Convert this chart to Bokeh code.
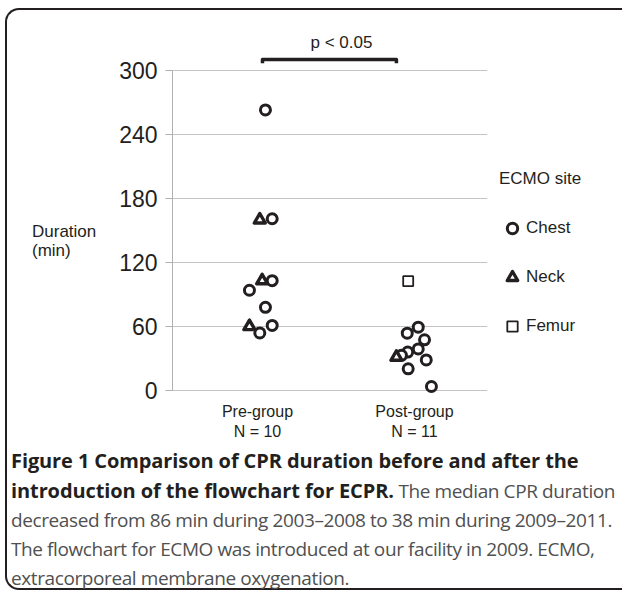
from bokeh.plotting import figure
from bokeh.models import ColumnDataSource, FixedTicker, Legend, LegendItem, Div
from bokeh.layouts import column, row
from bokeh.embed import file_html
from bokeh.resources import INLINE
from bokeh.core.properties import value

# ---------------- data ----------------
groups = ["Pre-group", "Post-group"]
group_labels = ["Pre-group\nN = 10", "Post-group\nN = 11"]
sites = ["Chest", "Neck", "Femur"]
y_ticks = [0, 60, 120, 180, 240, 300]

pre_site = ["Chest", "Neck", "Chest", "Chest", "Neck", "Chest", "Chest", "Neck", "Chest", "Chest"]
pre_duration = [263, 160, 161, 94, 103, 103, 78, 60, 54, 61]
pre_jitter = [0.051, 0.015, 0.094, -0.051, 0.030, 0.094, 0.051, -0.051, 0.015, 0.094]

post_site = ["Femur", "Chest", "Chest", "Chest", "Chest", "Chest", "Chest", "Chest", "Chest", "Chest", "Neck"]
post_duration = [102.5, 53.7, 59.4, 47.5, 36, 39, 28.7, 20.3, 3.75, 33, 31.3]
post_jitter = [-0.040, -0.046, 0.024, 0.064, -0.043, 0.024, 0.075, -0.040, 0.108, -0.083, -0.115]

p_value_text = "p < 0.05"
bracket_ends = [1.032, 1.885]   # group positions joined by the bracket
bracket_level = 310.3
bracket_drop = 3.5
p_text_x = 1.535
p_text_y = 326.2

ink = "#231f20"
FONT = "Liberation Sans"

# ---------------- figure ----------------
p = figure(frame_width=315, frame_height=365,
           x_range=(0.459, 2.465), y_range=(-4.69, 337.5),
           min_border_left=65, min_border_right=120,
           min_border_top=20, min_border_bottom=46,
           output_backend="svg", toolbar_location=None)
p.outline_line_color = None
p.background_fill_color = "white"

def points(site):
    xs, ys = [], []
    for g, (s_list, d_list, j_list) in enumerate([(pre_site, pre_duration, pre_jitter),
                                                   (post_site, post_duration, post_jitter)]):
        for s, d, j in zip(s_list, d_list, j_list):
            if s == site:
                xs.append(g + 1 + j)
                ys.append(d)
    return ColumnDataSource(dict(x=xs, y=ys))

r_chest = p.scatter("x", "y", source=points("Chest"), marker="circle", size=10,
                    line_width=3, line_color=ink, fill_color="white")
r_neck = p.scatter("x", "y", source=points("Neck"), marker="triangle", size=11,
                   line_width=3.4, line_color=ink, fill_color="white", line_join="round")
r_femur = p.scatter("x", "y", source=points("Femur"), marker="square", size=10,
                    line_width=1.8, line_color=ink, fill_color="white")

# significance bracket
p.line(x=[bracket_ends[0], bracket_ends[0], bracket_ends[1], bracket_ends[1]],
       y=[bracket_level - bracket_drop, bracket_level, bracket_level, bracket_level - bracket_drop],
       line_width=3.5, line_color=ink, line_join="round")
p.text(x=[p_text_x], y=[p_text_y], text=[p_value_text], text_align="center",
       text_baseline="middle", text_font=value(FONT), text_font_size="17px", text_color=ink)

# axes
p.yaxis.ticker = FixedTicker(ticks=y_ticks)
p.yaxis.bounds = (0, 300)
p.yaxis.axis_line_color = "#b0b0b0"
p.yaxis.major_tick_line_color = "#b0b0b0"
p.yaxis.major_tick_out = 7
p.yaxis.major_tick_in = 0
p.yaxis.minor_tick_line_color = None
p.yaxis.major_label_text_font = FONT
p.yaxis.major_label_text_font_size = "23px"
p.yaxis.major_label_text_color = ink
p.yaxis.major_label_standoff = 8

p.xaxis.ticker = FixedTicker(ticks=[1, 2])
p.xaxis.major_label_overrides = {i + 1: lab for i, lab in enumerate(group_labels)}
p.xaxis.axis_line_color = None
p.xaxis.major_tick_line_color = None
p.xaxis.minor_tick_line_color = None
p.xaxis.major_label_text_font = FONT
p.xaxis.major_label_text_font_size = "16px"
p.xaxis.major_label_text_color = ink
p.xaxis.major_label_standoff = 1

p.xgrid.grid_line_color = None
p.ygrid.grid_line_color = "#c4c4c4"
p.ygrid.grid_line_width = 1.2

# legend (right side panel)
legend = Legend(items=[LegendItem(label=sites[0], renderers=[r_chest]),
                       LegendItem(label=sites[1], renderers=[r_neck]),
                       LegendItem(label=sites[2], renderers=[r_femur])],
                title="ECMO site", title_text_font=FONT, title_text_font_size="17px",
                title_text_font_style="normal", title_text_color=ink, title_standoff=26,
                location=(12, 56), glyph_width=26, glyph_height=26, spacing=23,
                padding=0, margin=0, label_standoff=1,
                label_text_font=FONT, label_text_font_size="17px", label_text_color=ink,
                border_line_color=None, background_fill_alpha=0)
p.add_layout(legend, "right")

# y-axis title, written horizontally to the left of the axis
ylabel = Div(text='<div style="padding:212px 0 0 25px; line-height:19px;">Duration<br>(min)</div>',
             width=100, height=431, margin=0,
             styles={"font-family": FONT, "font-size": "17px", "color": ink})

# ---------------- caption ----------------
caption_html = (
    '<div style="padding:4px 0 0 4px;">'
    '<b style="color:#231f20;font-weight:700;font-size:20px;letter-spacing:-0.1px;">'
    'Figure 1 Comparison of CPR duration before and after the<br>'
    'introduction of the flowchart for ECPR.</b> The median CPR duration<br>'
    'decreased from 86 min during 2003\u20132008 to 38 min during 2009\u20132011.<br>'
    'The flowchart for ECMO was introduced at our facility in 2009. ECMO,<br>'
    'extracorporeal membrane oxygenation.</div>'
)
caption = Div(text=caption_html, width=608, height=146, margin=0,
              styles={"font-family": "Open Sans", "font-size": "19px", "line-height": "29px",
                      "white-space": "nowrap", "color": "#505050", "letter-spacing": "-0.4px"})

layout = column(row(ylabel, p), caption, margin=(8, 0, 0, 5),
                styles={"border-left": "2px solid #231f20", "border-top": "2px solid #231f20",
                        "border-bottom": "2px solid #231f20",
                        "border-radius": "14px 0 0 14px"})

open("out.html", "w").write(file_html(layout, INLINE))
